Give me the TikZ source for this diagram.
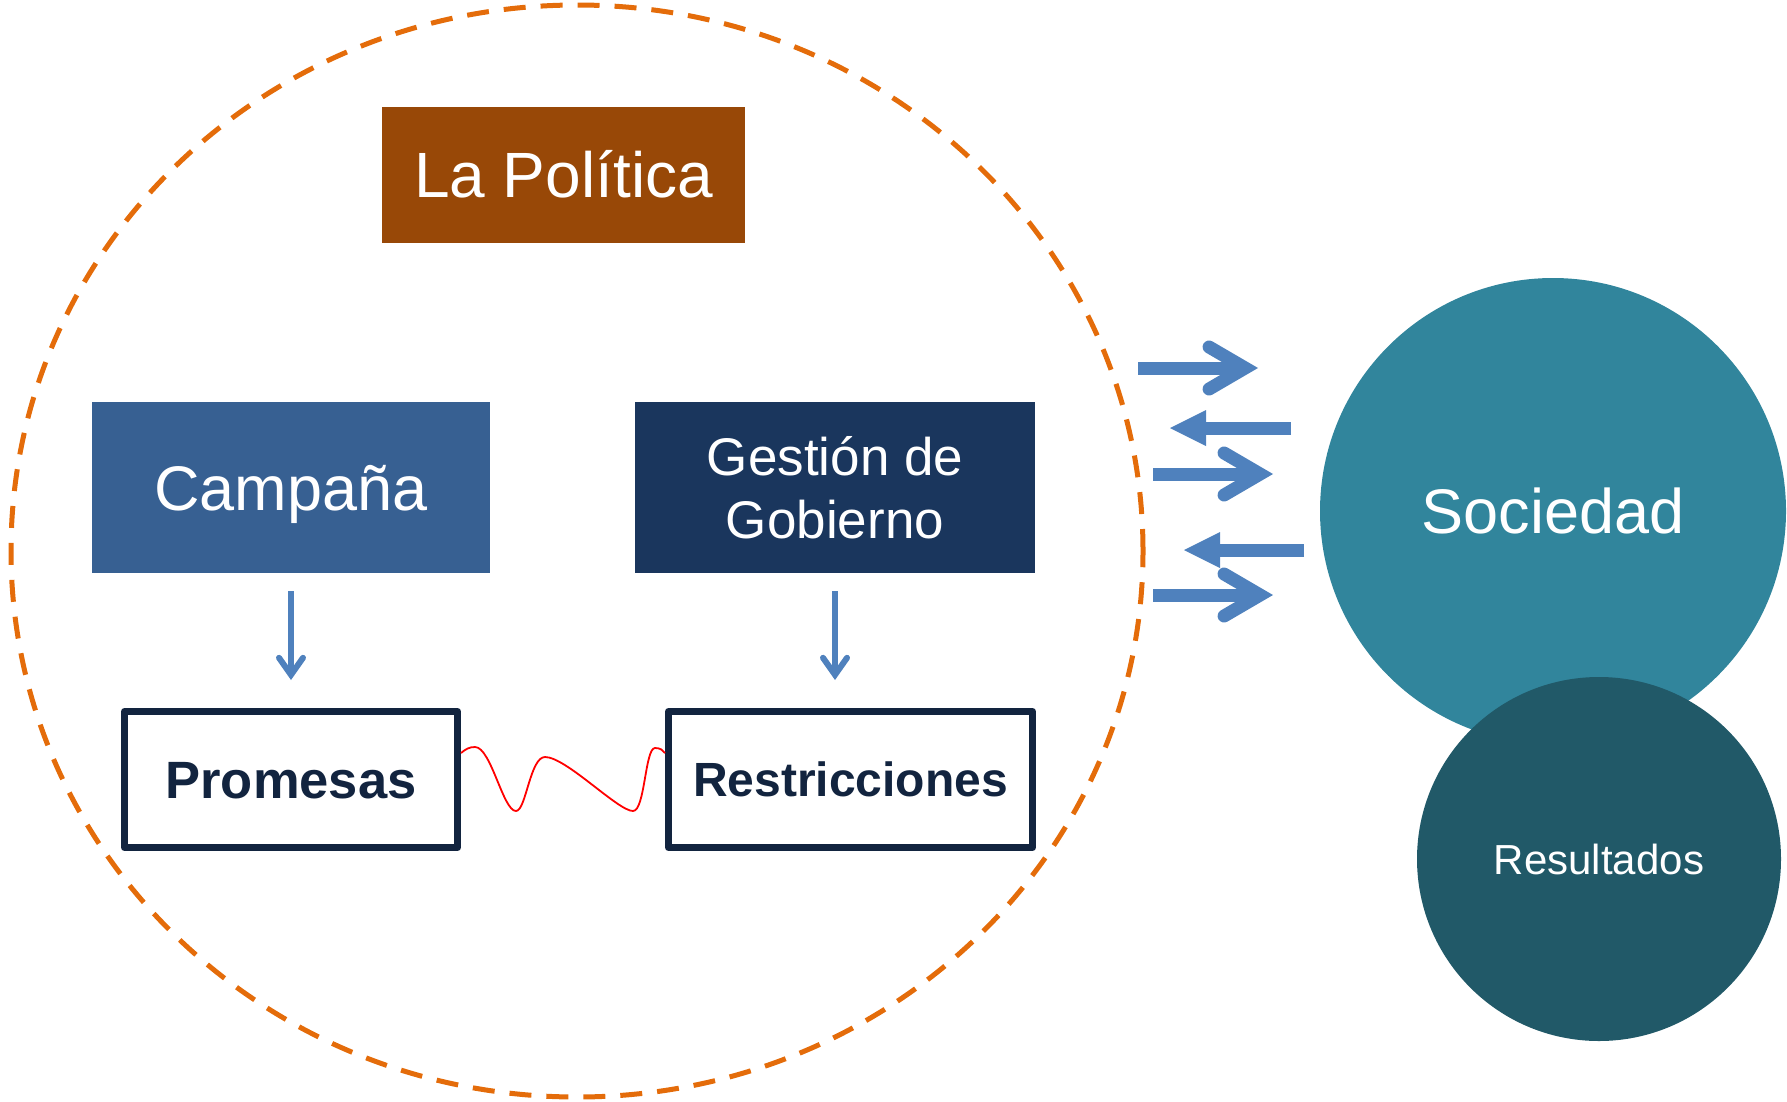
\documentclass[tikz,border=0pt]{standalone}
\usepackage{fontspec}
\setmainfont{Liberation Sans}
\usetikzlibrary{arrows.meta,shapes.geometric,calc}
\definecolor{dashorange}{HTML}{E46C0A}
\definecolor{politica}{HTML}{984807}
\definecolor{campana}{HTML}{376092}
\definecolor{gestion}{HTML}{1A365D}
\definecolor{navy}{HTML}{12243F}
\definecolor{arrowblue}{HTML}{4F81BD}
\definecolor{sociedad}{HTML}{31859C}
\definecolor{resultados}{HTML}{215968}
\newcommand\fsz[1]{\fontsize{#1}{#1}\selectfont}
\begin{document}
\begin{tikzpicture}[x=1pt,y=-1pt,
  fillbox/.style={rectangle, inner sep=0pt, outer sep=0pt, text=white, text depth=0pt},
  linebox/.style={rectangle, draw=navy, line width=7pt, fill=white, inner sep=0pt, text=navy, text depth=0pt, line join=round},
  bubble/.style={circle, inner sep=0pt, outer sep=0pt, text=white, text depth=0pt},
  downarrow/.style={draw=arrowblue, line width=6pt, -{Straight Barb[length=17pt, width=24pt, line cap=round]}},
  outarrow/.style={draw=arrowblue, line width=13pt, -{Straight Barb[length=36pt, width=42pt, line cap=round]}},
  inarrow/.style={draw=arrowblue, line width=13pt, -{Triangle[length=36pt, width=36pt, line width=0pt]}},
  wave/.style={draw=red, line width=1.8pt}
]
\useasboundingbox (0,0) rectangle (1787,1101);

% dashed outline
\node[ellipse, draw=dashorange, line width=5pt, dash pattern=on 22pt off 15pt,
      minimum width=1132pt, minimum height=1092pt, inner sep=0pt] (pol) at (577,551) {};

% boxes
\node[fillbox, fill=politica, minimum width=363pt, minimum height=136pt,
      font=\fsz{64}, text height=45.8pt] (lapol) at (563.5,175) {La Política};
\node[fillbox, fill=campana, minimum width=398pt, minimum height=171pt,
      font=\fsz{63}, text height=45.1pt] (camp) at (291,487.5) {Campaña};
\node[fillbox, fill=gestion, minimum width=400pt, minimum height=171pt,
      font=\fontsize{53}{63}\selectfont, align=center] (gest) at (835,487.5) {Gestión de\\Gobierno};

\node[linebox, minimum width=333pt, minimum height=136pt,
      font=\bfseries\fsz{52.5}, text height=37.6pt] (prom) at (291,779.5) {Promesas};
\node[linebox, minimum width=364pt, minimum height=136pt,
      font=\bfseries\fsz{48}, text height=34.4pt] (restr) at (850.5,779.5) {Restricciones};

% down arrows
\draw[downarrow, shorten <=18pt, shorten >=28pt] (camp.south) -- (camp.south |- prom.north);
\draw[downarrow, shorten <=18pt, shorten >=28pt] (gest.south) -- (gest.south |- restr.north);

% wavy red line
\coordinate (ws) at ([yshift=26.5pt]prom.east);
\coordinate (we) at ([yshift=26.5pt]restr.west);
\draw[wave] (ws) .. controls (466,749) and (469,747) .. (475,747)
  .. controls (491,747) and (503,811) .. (516,811)
  .. controls (526,811) and (530,757) .. (545,757)
  .. controls (566,757) and (618,811) .. (633,811)
  .. controls (645,811) and (645,748) .. (655,748)
  .. controls (660,748) and (663,750) .. (we);

% circles
\node[bubble, fill=sociedad, minimum size=466pt, font=\fsz{63}, text height=45.1pt] (soc) at (1553,511) {Sociedad};
\node[bubble, fill=resultados, minimum size=364pt, font=\fsz{42}, text height=30.1pt] (res) at (1599,859) {Resultados};

% exchange arrows
\coordinate (o1s) at (1138,368); \coordinate (o1e) at (1258,368);
\coordinate (i1s) at (1291,428); \coordinate (i1e) at (1170,428);
\coordinate (o2s) at (1153,474); \coordinate (o2e) at (1273,474);
\coordinate (i2s) at (1304,550); \coordinate (i2e) at (1184,550);
\coordinate (o3s) at (1153,595); \coordinate (o3e) at (1273,595);
\draw[outarrow] (o1s) -- (o1e);
\draw[inarrow] (i1s) -- (i1e);
\draw[outarrow] (o2s) -- (o2e);
\draw[inarrow] (i2s) -- (i2e);
\draw[outarrow] (o3s) -- (o3e);
\end{tikzpicture}
\end{document}
